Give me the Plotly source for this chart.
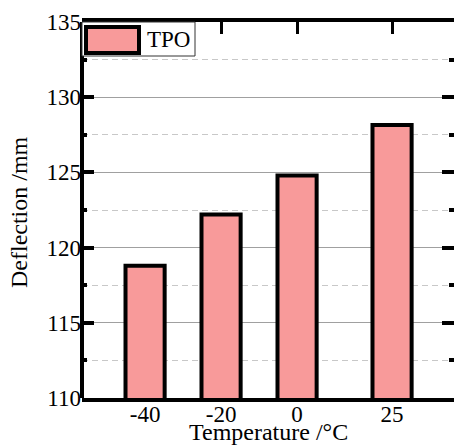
import plotly.graph_objects as go

# Deflection of TPO samples at each test temperature
temperatures = [-40, -20, 0, 25]
deflection = [118.8, 122.2, 124.8, 128.15]
tick_labels = ["-40", "-20", "0", "25"]
series_name = "TPO"
x_title = "Temperature /°C"
y_title = "Deflection /mm"

FONT = "Liberation Serif"
BAR_FILL = "#F89A9A"

# plot-area geometry in pixels (used to place the hand-drawn legend and titles)
W, H = 454, 446
L, R, T, B = 82, 0, 22, 48
PW, PH = W - L - R, H - T - B


def px_x(x):
    return (x - L) / PW


def px_y(y):
    return 1 - (y - T) / PH


fig = go.Figure()
fig.add_trace(go.Bar(
    x=temperatures,
    y=deflection,
    width=10.3,
    name=series_name,
    marker=dict(color=BAR_FILL, line=dict(color="black", width=4)),
    showlegend=False,
))

fig.update_layout(
    width=W,
    height=H,
    margin=dict(l=L, r=R, t=T, b=B),
    paper_bgcolor="white",
    plot_bgcolor="white",
    font=dict(family=FONT, size=23, color="black"),
    xaxis=dict(
        range=[-56.6, 41.3],
        tickmode="array",
        tickvals=temperatures,
        ticktext=tick_labels,
        tickfont=dict(size=23),
        ticklabelstandoff=-8,
        ticks="inside",
        ticklen=12,
        tickwidth=3,
        tickcolor="black",
        showline=True,
        linewidth=4,
        linecolor="black",
        mirror="ticks",
        showgrid=False,
        zeroline=False,
        layer="below traces",
    ),
    yaxis=dict(
        range=[110, 135],
        tickmode="linear",
        tick0=110,
        dtick=5,
        tickfont=dict(size=23),
        ticks="inside",
        ticklen=12,
        tickwidth=4,
        tickcolor="black",
        showline=False,
        mirror="ticks",
        showgrid=True,
        gridcolor="#A0A0A0",
        gridwidth=1,
        zeroline=False,
        minor=dict(
            dtick=2.5,
            tick0=110,
            ticks="inside",
            ticklen=5,
            tickwidth=4,
            tickcolor="black",
            showgrid=True,
            gridcolor="#C8C8C8",
            gridwidth=1,
            griddash="6px,4px",
        ),
    ),
    shapes=[
        # left spine
        dict(type="line", xref="paper", yref="paper", x0=0, x1=0, y0=0, y1=1,
             line=dict(color="black", width=4), layer="above"),
        # legend frame
        dict(type="rect", xref="paper", yref="paper",
             x0=0, x1=px_x(195), y0=px_y(56), y1=1,
             line=dict(color="#333333", width=1), fillcolor="white", layer="above"),
        # legend swatch
        dict(type="rect", xref="paper", yref="paper",
             x0=px_x(86), x1=px_x(139), y0=px_y(53), y1=px_y(27),
             line=dict(color="black", width=4), fillcolor=BAR_FILL, layer="above"),
    ],
    annotations=[
        dict(text=series_name, xref="paper", yref="paper",
             x=px_x(145), y=px_y(40),
             xanchor="left", yanchor="middle", showarrow=False,
             font=dict(family=FONT, size=23, color="black")),
        dict(text=x_title, xref="paper", yref="paper",
             x=px_x(268), y=px_y(432),
             xanchor="center", yanchor="middle", showarrow=False,
             font=dict(family=FONT, size=24, color="black")),
        dict(text=y_title, xref="paper", yref="paper",
             x=px_x(19), y=px_y(212), textangle=-90,
             xanchor="center", yanchor="middle", showarrow=False,
             font=dict(family=FONT, size=24, color="black")),
    ],
)

fig.write_html("out.html")
